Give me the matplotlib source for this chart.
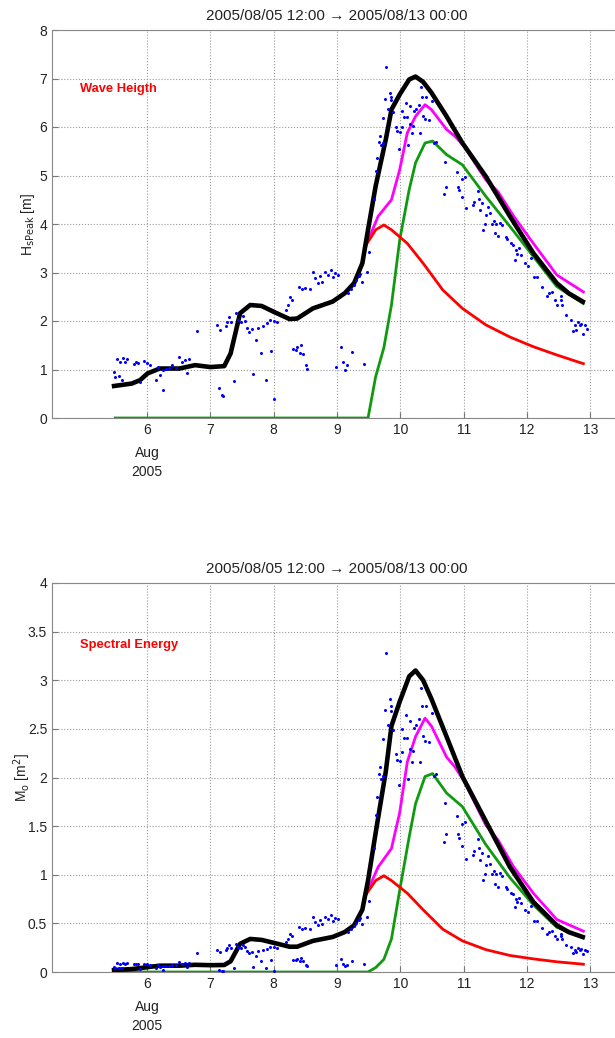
import matplotlib
matplotlib.use("Agg")
import matplotlib.pyplot as plt

# ---- data (day of August 2005) ----
line_day_black = [5.48, 5.76, 5.89, 6.01, 6.20, 6.51, 6.76, 7.00, 7.22, 7.32, 7.47, 7.63, 7.81,
                  8.00, 8.25, 8.37, 8.62, 8.93, 9.12, 9.27, 9.40, 9.49, 9.61, 9.77, 9.86, 9.99,
                  10.14, 10.24, 10.36, 10.49, 10.73, 10.98, 11.35, 11.73, 12.10, 12.47, 12.66, 12.88]
hs_black = [0.66, 0.71, 0.78, 0.92, 1.02, 1.02, 1.09, 1.05, 1.07, 1.33, 2.16, 2.33, 2.31,
            2.19, 2.04, 2.05, 2.26, 2.40, 2.57, 2.78, 3.19, 3.88, 4.78, 5.74, 6.36, 6.67,
            6.98, 7.04, 6.93, 6.71, 6.22, 5.67, 4.98, 4.16, 3.40, 2.78, 2.57, 2.40]
m0_black = [0.02, 0.03, 0.04, 0.05, 0.065, 0.065, 0.074, 0.07, 0.072, 0.11, 0.29, 0.34, 0.33,
            0.30, 0.26, 0.26, 0.32, 0.36, 0.41, 0.48, 0.64, 0.94, 1.43, 2.06, 2.53, 2.78,
            3.04, 3.10, 3.00, 2.81, 2.42, 2.01, 1.55, 1.08, 0.72, 0.48, 0.41, 0.36]

line_day_magenta = [9.46, 9.65, 9.86, 9.99, 10.11, 10.24, 10.39, 10.49, 10.73, 10.86, 11.01,
                    11.35, 11.54, 11.79, 12.10, 12.47, 12.89]
hs_magenta = [3.57, 4.16, 4.50, 5.12, 5.88, 6.22, 6.46, 6.36, 5.95, 5.81, 5.60,
              4.91, 4.67, 4.16, 3.60, 2.95, 2.60]
m0_magenta = [0.80, 1.08, 1.27, 1.64, 2.16, 2.42, 2.61, 2.53, 2.21, 2.11, 1.96,
              1.51, 1.36, 1.08, 0.81, 0.54, 0.42]

line_day_red = [9.46, 9.61, 9.74, 9.86, 10.11, 10.36, 10.67, 10.98, 11.35, 11.73, 12.10, 12.47, 12.89]
hs_red = [3.57, 3.88, 3.98, 3.88, 3.60, 3.19, 2.64, 2.26, 1.92, 1.67, 1.47, 1.30, 1.12]
m0_red = [0.80, 0.94, 0.99, 0.94, 0.81, 0.64, 0.44, 0.32, 0.23, 0.17, 0.135, 0.105, 0.08]

line_day_green = [5.50, 9.49, 9.61, 9.74, 9.86, 9.99, 10.14, 10.24, 10.39, 10.51, 10.73, 10.98,
                  11.35, 11.73, 12.10, 12.47, 12.89]
hs_green = [0.0, 0.0, 0.85, 1.45, 2.33, 3.67, 4.71, 5.26, 5.67, 5.71, 5.43, 5.22,
            4.57, 3.95, 3.33, 2.71, 2.36]
m0_green = [0.0, 0.0, 0.045, 0.13, 0.34, 0.84, 1.39, 1.73, 2.01, 2.04, 1.84, 1.70,
            1.31, 0.97, 0.69, 0.46, 0.35]

obs_day = [5.48, 5.50, 5.52, 5.56, 5.58, 5.61, 5.62, 5.65, 5.69, 5.80, 5.83, 5.86, 5.89, 5.95,
           6.00, 6.04, 6.14, 6.17, 6.20, 6.25, 6.26, 6.30, 6.34, 6.39, 6.45, 6.51, 6.55, 6.60,
           6.63, 6.66, 6.79,
           7.11, 7.13, 7.16, 7.18, 7.20, 7.24, 7.27, 7.30, 7.33, 7.37, 7.40, 7.44, 7.48, 7.52,
           7.55, 7.58, 7.61, 7.66, 7.68, 7.72, 7.75, 7.80, 7.83, 7.88, 7.90, 7.94, 7.96, 8.00,
           8.01, 8.06,
           8.19, 8.22, 8.25, 8.29, 8.31, 8.35, 8.37, 8.40, 8.41, 8.43, 8.45, 8.47, 8.50, 8.51,
           8.53, 8.57, 8.62, 8.66, 8.70, 8.73, 8.77, 8.81, 8.86, 8.90, 8.93, 8.97,
           8.99, 9.02, 9.06, 9.09, 9.12, 9.16, 9.18, 9.22, 9.24, 9.27, 9.30, 9.34, 9.37, 9.40,
           9.43, 9.47,
           9.50, 9.59, 9.62, 9.63, 9.66, 9.68, 9.69, 9.72, 9.73, 9.76, 9.78, 9.80, 9.83, 9.85,
           9.86, 9.89, 9.93, 9.95, 9.98, 10.00, 10.02, 10.03, 10.05, 10.09, 10.11, 10.12, 10.15,
           10.16, 10.18, 10.20, 10.22, 10.25, 10.29, 10.31, 10.33, 10.34, 10.36, 10.39, 10.41,
           10.46, 10.50, 10.53, 10.56, 10.69, 10.70, 10.72, 10.89, 10.91, 10.93, 10.97, 10.98,
           11.02, 11.04, 11.15, 11.17, 11.22, 11.24, 11.26, 11.29, 11.31, 11.33, 11.35, 11.38,
           11.41, 11.45, 11.48, 11.50, 11.51, 11.54, 11.57, 11.61, 11.67, 11.69, 11.74, 11.78,
           11.81, 11.82, 11.85, 11.88, 11.90, 11.97, 12.02, 12.06, 12.11, 12.15, 12.24, 12.32,
           12.34, 12.40, 12.44, 12.48, 12.53, 12.54, 12.56, 12.61, 12.70, 12.73, 12.76, 12.77,
           12.80, 12.84, 12.86, 12.89, 12.92, 12.94]
obs_hs = [0.95, 0.85, 1.21, 0.86, 1.16, 0.78, 1.23, 1.16, 1.21, 1.12, 1.16, 1.14, 0.74, 1.18,
          1.14, 1.09, 0.78, 1.05, 0.88, 0.57, 0.99, 1.01, 1.03, 1.09, 1.04, 1.25, 1.16, 1.19,
          0.93, 1.22, 1.79,
          1.92, 0.61, 1.81, 0.48, 0.45, 1.90, 1.98, 2.09, 1.98, 0.76, 2.16, 2.02, 1.98, 2.10,
          2.01, 1.85, 1.78, 1.83, 0.90, 1.61, 1.85, 1.34, 1.90, 0.78, 1.95, 2.02, 1.38, 0.40,
          2.01, 1.98,
          2.23, 2.33, 2.50, 2.43, 1.43, 1.40, 1.47, 2.71, 1.33, 1.50, 2.67, 1.32, 2.69, 1.09,
          1.02, 2.67, 3.02, 2.88, 2.79, 2.92, 2.81, 3.02, 2.95, 3.05, 2.90, 2.98,
          1.05, 2.95, 1.47, 1.16, 0.99, 1.09, 2.57, 2.65, 1.36, 2.74, 2.85, 2.93, 2.97, 2.81,
          1.12, 3.02,
          3.43, 4.52, 5.09, 5.36, 5.70, 5.81, 5.63, 5.68, 6.19, 6.57, 7.24, 6.38, 6.70, 6.62,
          6.55, 6.31, 5.99, 5.91, 5.55, 5.89, 6.32, 6.01, 6.21, 6.50, 6.21, 5.63, 6.06,
          6.43, 5.88, 6.03, 6.34, 6.37, 6.45, 5.88, 6.83, 6.62, 6.23, 6.17, 6.62,
          6.15, 6.53, 5.68, 5.70, 4.62, 5.28, 4.76, 5.07, 4.76, 4.70, 4.55, 4.93,
          4.97, 4.32, 4.39, 4.46, 4.68, 4.51, 4.29, 4.43, 3.88, 4.01, 4.19, 4.36,
          4.22, 4.01, 4.07, 3.81, 4.01, 3.75, 4.03, 3.98, 3.74, 3.70, 3.60, 3.57,
          3.26, 3.46, 3.39, 3.50, 3.36, 3.19, 3.13, 3.29, 2.91, 2.91, 2.70, 2.51,
          2.57, 2.60, 2.44, 2.32, 2.44, 2.51, 2.32, 2.12, 2.03, 1.79, 1.91, 1.81,
          1.98, 1.91, 1.94, 1.74, 1.91, 1.84]
obs_m0 = [0.056, 0.045, 0.092, 0.046, 0.084, 0.038, 0.095, 0.084, 0.092, 0.078, 0.084, 0.081, 0.034, 0.087,
          0.081, 0.074, 0.038, 0.069, 0.048, 0.020, 0.061, 0.064, 0.066, 0.074, 0.068, 0.098, 0.084, 0.089,
          0.054, 0.093, 0.200,
          0.230, 0.023, 0.205, 0.014, 0.013, 0.226, 0.245, 0.273, 0.245, 0.036, 0.292, 0.255, 0.245, 0.276,
          0.253, 0.214, 0.198, 0.209, 0.051, 0.162, 0.214, 0.112, 0.226, 0.038, 0.238, 0.255, 0.119, 0.010,
          0.253, 0.245,
          0.311, 0.339, 0.391, 0.369, 0.128, 0.123, 0.135, 0.459, 0.111, 0.141, 0.446, 0.109, 0.452, 0.074,
          0.065, 0.446, 0.570, 0.518, 0.487, 0.533, 0.494, 0.570, 0.544, 0.581, 0.526, 0.555,
          0.069, 0.544, 0.135, 0.084, 0.061, 0.074, 0.413, 0.439, 0.116, 0.469, 0.508, 0.537, 0.551, 0.494,
          0.078, 0.570,
          0.735, 1.277, 1.619, 1.796, 2.031, 2.110, 1.981, 2.016, 2.395, 2.698, 3.276, 2.544, 2.806, 2.739,
          2.681, 2.488, 2.243, 2.183, 1.925, 2.168, 2.496, 2.258, 2.410, 2.641, 2.410, 1.981, 2.295,
          2.584, 2.161, 2.273, 2.512, 2.536, 2.600, 2.161, 2.916, 2.739, 2.426, 2.379, 2.739,
          2.364, 2.665, 2.016, 2.031, 1.334, 1.742, 1.416, 1.607, 1.416, 1.381, 1.294, 1.519,
          1.544, 1.166, 1.205, 1.243, 1.369, 1.271, 1.150, 1.227, 0.941, 1.005, 1.097, 1.188,
          1.113, 1.005, 1.035, 0.907, 1.005, 0.879, 1.015, 0.990, 0.874, 0.856, 0.810, 0.797,
          0.664, 0.748, 0.718, 0.766, 0.706, 0.636, 0.612, 0.677, 0.529, 0.529, 0.456, 0.394,
          0.413, 0.423, 0.372, 0.336, 0.372, 0.394, 0.336, 0.281, 0.258, 0.200, 0.228, 0.205,
          0.245, 0.228, 0.235, 0.189, 0.228, 0.212]

day_ticks = [6, 7, 8, 9, 10, 11, 12, 13]
hs_ticks = [0, 1, 2, 3, 4, 5, 6, 7, 8]
m0_ticks = [0, 0.5, 1, 1.5, 2, 2.5, 3, 3.5, 4]
m0_ticklabels = ["0", "0.5", "1", "1.5", "2", "2.5", "3", "3.5", "4"]

title = "2005/08/05 12:00 \u2192 2005/08/13 00:00"

plt.rcParams['font.family'] = ['Liberation Sans', 'DejaVu Sans']

fig = plt.figure(figsize=(6.15, 10.38), dpi=100)
W, H = 615.0, 1038.0


def make_axes(top_px, bottom_px):
    left, right = 52.0, 622.0
    return fig.add_axes([left / W, 1 - bottom_px / H, (right - left) / W, (bottom_px - top_px) / H])


def style(ax, yticks, yticklabels, ymax, ylabel, label_x, note, note_y):
    ax.set_xlim(4.5, 13.5)
    ax.set_ylim(0, ymax)
    ax.set_xticks(day_ticks)
    ax.set_xticklabels([str(d) for d in day_ticks], fontsize=10, color='#222222')
    ax.set_yticks(yticks)
    ax.set_yticklabels(yticklabels, fontsize=10, color='#222222')
    ax.tick_params(direction='in', length=4, color='#777777')
    ax.grid(True, linestyle=':', color='#999999', linewidth=0.8)
    for s in ax.spines.values():
        s.set_color('#888888')
    ax.set_title(title, fontsize=11, color='#222222', pad=7)
    ax.set_ylabel(ylabel, fontsize=10, color='#222222')
    ax.yaxis.set_label_coords(label_x, 0.5)
    ax.annotate('Aug', xy=(6, 0), xycoords=('data', 'axes fraction'), xytext=(0, -25),
                textcoords='offset points', ha='center', va='center', fontsize=10, color='#222222')
    ax.annotate('2005', xy=(6, 0), xycoords=('data', 'axes fraction'), xytext=(0, -39),
                textcoords='offset points', ha='center', va='center', fontsize=10, color='#222222')
    ax.text(4.94, note_y, note, color='red', fontsize=9.3, fontweight='bold', va='center', ha='left')


# top panel: significant wave height
ax1 = make_axes(30, 418)
ax1.plot(line_day_green, hs_green, color='#109a10', lw=2, zorder=3)
ax1.plot(line_day_magenta, hs_magenta, color='#ff00ff', lw=2, zorder=3)
ax1.plot(line_day_red, hs_red, color='#ff0000', lw=2, zorder=3)
ax1.plot(line_day_black, hs_black, color='black', lw=3.3, zorder=4)
ax1.plot(obs_day, obs_hs, linestyle='none', marker='o', ms=2.2, mew=0, color='#0000ff', zorder=5)
style(ax1, hs_ticks, [str(t) for t in hs_ticks], 8, r'H$_{\rm sPeak}$ [m]', -0.026,
      'Wave Heigth', 6.78)

# bottom panel: spectral energy
ax2 = make_axes(583, 972)
ax2.plot(line_day_green, m0_green, color='#109a10', lw=2, zorder=3)
ax2.plot(line_day_magenta, m0_magenta, color='#ff00ff', lw=2, zorder=3)
ax2.plot(line_day_red, m0_red, color='#ff0000', lw=2, zorder=3)
ax2.plot(line_day_black, m0_black, color='black', lw=3.3, zorder=4)
ax2.plot(obs_day, obs_m0, linestyle='none', marker='o', ms=2.2, mew=0, color='#0000ff', zorder=5)
style(ax2, m0_ticks, m0_ticklabels, 4, r'M$_{\rm o}$ [m$^2$]', -0.033,
      'Spectral Energy', 3.36)

fig.savefig('out.png', dpi=100)
